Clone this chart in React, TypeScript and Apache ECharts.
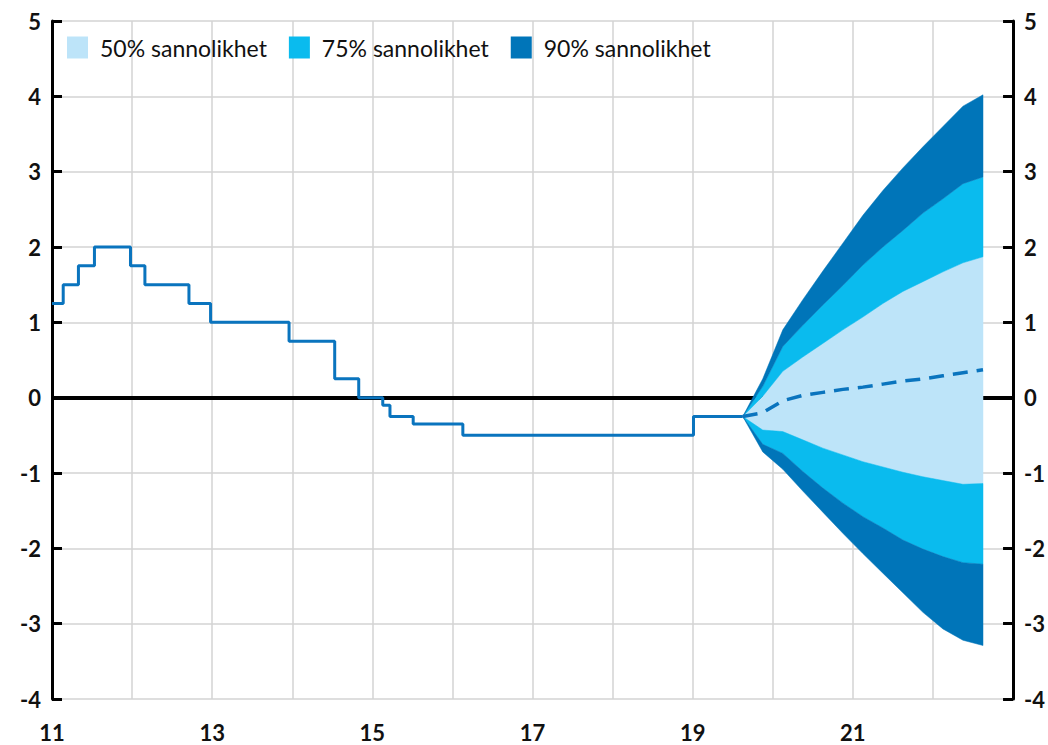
import React, { useEffect, useRef } from "react";
import * as echarts from "echarts";

// Historical repo rate: x = year position of each change, y = new level
const historyX = [11.0, 11.14, 11.33, 11.53, 11.98, 12.16, 12.71, 12.98, 13.96, 14.53, 14.83, 15.13, 15.22, 15.51, 16.13, 19.01, 19.625];
const historyY = [1.25, 1.5, 1.75, 2.0, 1.75, 1.5, 1.25, 1.0, 0.75, 0.25, 0.0, -0.1, -0.25, -0.35, -0.5, -0.25, -0.25];

// Forecast (quarterly)
const forecastX = [19.625, 19.875, 20.125, 20.375, 20.625, 20.875, 21.125, 21.375, 21.625, 21.875, 22.125, 22.375, 22.625];
const forecastMean = [-0.25, -0.2, -0.04, 0.03, 0.07, 0.11, 0.14, 0.18, 0.22, 0.25, 0.29, 0.33, 0.37];
const upper50 = [-0.25, 0.02, 0.35, 0.54, 0.72, 0.9, 1.07, 1.25, 1.41, 1.54, 1.67, 1.79, 1.87];
const upper75 = [-0.25, 0.15, 0.68, 0.96, 1.23, 1.49, 1.76, 2.0, 2.22, 2.45, 2.64, 2.84, 2.93];
const upper90 = [-0.25, 0.25, 0.9, 1.3, 1.68, 2.05, 2.42, 2.75, 3.05, 3.33, 3.6, 3.87, 4.02];
const lower50 = [-0.25, -0.43, -0.45, -0.56, -0.67, -0.76, -0.85, -0.92, -0.99, -1.05, -1.1, -1.15, -1.14];
const lower75 = [-0.25, -0.62, -0.74, -0.98, -1.2, -1.4, -1.58, -1.73, -1.89, -2.01, -2.11, -2.19, -2.21];
const lower90 = [-0.25, -0.72, -0.95, -1.24, -1.52, -1.8, -2.07, -2.33, -2.59, -2.85, -3.07, -3.22, -3.29];

const legendNames = ["50% sannolikhet", "75% sannolikhet", "90% sannolikhet"];
const bandColors = ["#BDE4F9", "#0ABBEE", "#0075B9"];
const lineColor = "#0A74BE";

const FONT = "Lato";

export default function App() {
  const ref = useRef<HTMLDivElement>(null);

  useEffect(() => {
    if (!ref.current) return;
    const chart = echarts.init(ref.current, undefined, { renderer: "svg" });

    // A band polygon between two edges, drawn with the chart's own scales
    const bandSeries = (name: string, top: number[], bottom: number[], color: string, id: string) => ({
      id,
      type: "custom",
      name,
      coordinateSystem: "cartesian2d",
      silent: true,
      z: 2,
      itemStyle: { color },
      data: [[forecastX[0], top[0]]],
      renderItem: (params: any, api: any) => {
        const pts: number[][] = [];
        for (let i = 0; i < forecastX.length; i++) pts.push(api.coord([forecastX[i], top[i]]));
        for (let i = forecastX.length - 1; i >= 0; i--) pts.push(api.coord([forecastX[i], bottom[i]]));
        return {
          type: "polygon",
          shape: { points: pts },
          style: { fill: color, stroke: color, lineWidth: 0.5 },
        };
      },
    });

    const option: any = {
      animation: false,
      grid: { left: 52, right: 31, top: 21, bottom: 46, containLabel: false },
      legend: {
        left: 62,
        top: 31,
        itemWidth: 21,
        itemHeight: 22,
        itemGap: 22,
        selectedMode: false,
        data: legendNames.map((n, i) => ({ name: n, icon: "rect", itemStyle: { color: bandColors[i] } })),
        textStyle: { fontFamily: FONT, fontSize: 23, color: "#111", padding: [0, 0, 0, 7] },
      },
      xAxis: {
        type: "value",
        min: 11,
        max: 23,
        interval: 1,
        axisLine: { show: false },
        axisTick: { show: false },
        splitLine: { show: true, lineStyle: { color: "#D3D3D3", width: 1.5 } },
        axisLabel: {
          margin: 22,
          fontFamily: FONT,
          fontSize: 22,
          fontWeight: "bold",
          color: "#111",
          formatter: (v: number) => (Math.round(v) % 2 === 1 && v < 23 ? String(v) : ""),
        },
      },
      yAxis: [
        {
          type: "value",
          position: "left",
          min: -4,
          max: 5,
          interval: 1,
          axisLine: { show: true, lineStyle: { color: "#000", width: 3 } },
          axisTick: { show: true, inside: true, length: 10, lineStyle: { color: "#000", width: 3 } },
          splitLine: { show: true, lineStyle: { color: "#D3D3D3", width: 1.5 } },
          axisLabel: { margin: 11, fontFamily: FONT, fontSize: 22, fontWeight: "bold", color: "#111" },
        },
        {
          type: "value",
          position: "right",
          min: -4,
          max: 5,
          interval: 1,
          axisLine: { show: true, lineStyle: { color: "#000", width: 3 } },
          axisTick: { show: true, inside: true, length: 10, lineStyle: { color: "#000", width: 3 } },
          splitLine: { show: false },
          axisLabel: { margin: 11, fontFamily: FONT, fontSize: 22, fontWeight: "bold", color: "#111" },
        },
      ],
      series: [
        {
          id: "zero",
          type: "line",
          name: "zero",
          data: [],
          z: 1,
          silent: true,
          markLine: {
            silent: true,
            symbol: ["none", "none"],
            label: { show: false },
            lineStyle: { color: "#000", width: 4, type: "solid" },
            data: [{ yAxis: 0 }],
            z: 1,
          },
        },
        bandSeries(legendNames[0], upper50, lower50, bandColors[0], "b50"),
        bandSeries(legendNames[1], upper75, upper50, bandColors[1], "b75u"),
        bandSeries(legendNames[1], lower50, lower75, bandColors[1], "b75l"),
        bandSeries(legendNames[2], upper90, upper75, bandColors[2], "b90u"),
        bandSeries(legendNames[2], lower75, lower90, bandColors[2], "b90l"),
        {
          id: "history",
          type: "line",
          name: "Reporänta",
          step: "end",
          data: historyX.map((x, i) => [x, historyY[i]]),
          symbol: "none",
          z: 3,
          lineStyle: { color: lineColor, width: 3 },
        },
        {
          id: "forecast",
          type: "line",
          name: "Prognos",
          data: forecastX.map((x, i) => [x, forecastMean[i]]),
          symbol: "none",
          z: 3,
          lineStyle: { color: lineColor, width: 3.5, type: [15, 9] },
        },
      ],
    };

    chart.setOption(option);
    return () => chart.dispose();
  }, []);

  return (
    <div
      ref={ref}
      style={{ position: "fixed", left: 0, top: 0, width: 1048, height: 745, background: "#fff" }}
    />
  );
}
